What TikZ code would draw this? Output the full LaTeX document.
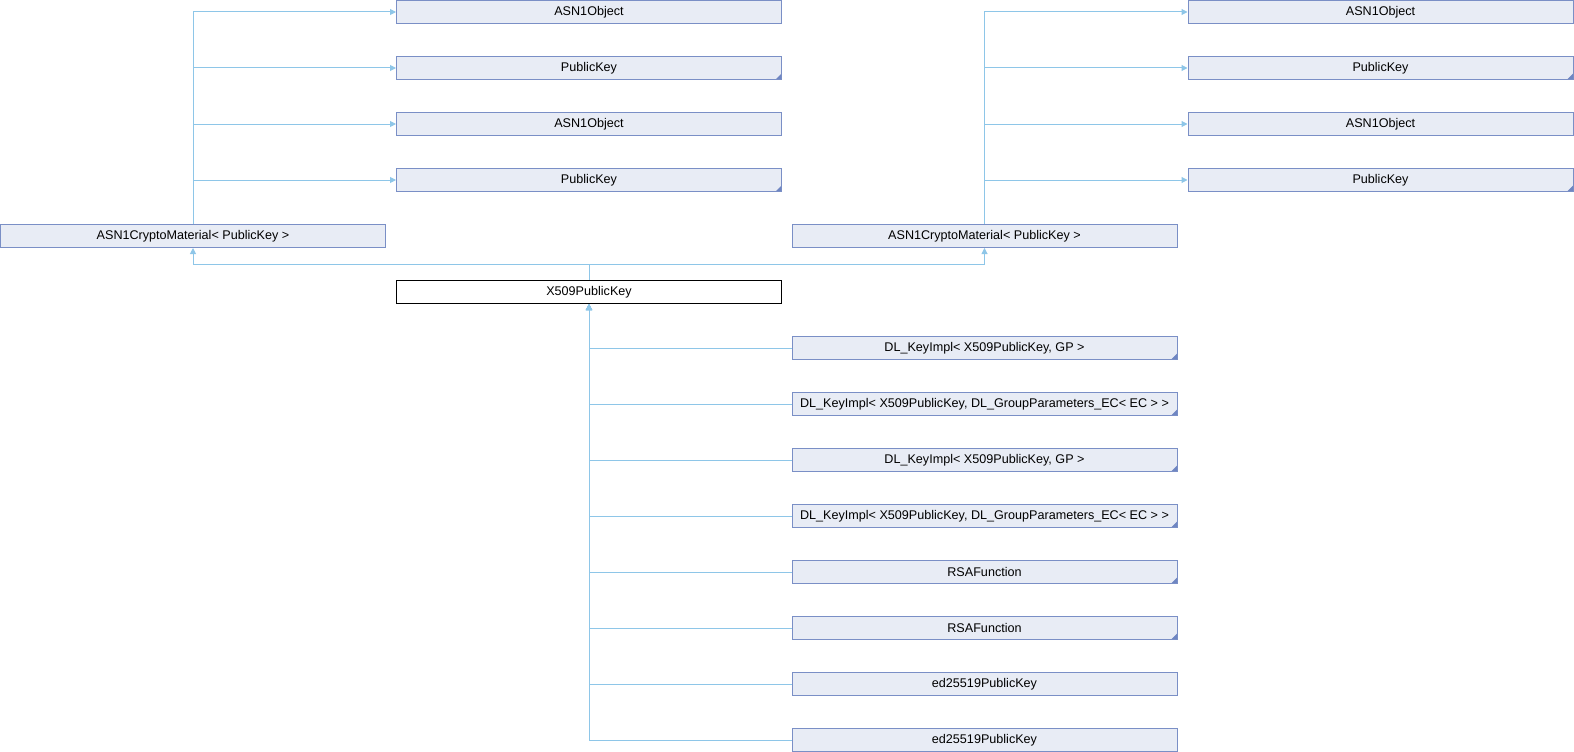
\documentclass[tikz,border=0pt]{standalone}
\usepackage{fontspec}
\setmainfont{Liberation Sans}
\usetikzlibrary{arrows.meta}

\definecolor{boxfill}{HTML}{E8ECF5}
\definecolor{boxline}{HTML}{7A8FC6}
\definecolor{cornerfill}{HTML}{6F86C2}
\definecolor{edgecol}{HTML}{8EC6E8}

\tikzset{
  cls/.style={draw=boxline, fill=boxfill, line width=1pt, rectangle,
    minimum width=385pt, minimum height=23pt, inner sep=0pt,
    font=\fontsize{12.6}{14}\selectfont},
  clsmore/.style={cls, path picture={
      \fill[cornerfill] (path picture bounding box.south east) -- ++(-6pt,0pt)
        -- ++(6pt,6pt) -- cycle;}},
  focus/.style={cls, draw=black, fill=white},
  link/.style={draw=edgecol, line width=1pt},
  inherit/.style={link, -{Triangle[length=6pt,width=6pt]}},
}

\begin{document}
\begin{tikzpicture}[x=1pt, y=-1pt]
\useasboundingbox (0,0) rectangle (1574,752);

% base classes of the left ASN1CryptoMaterial
\node[cls]     (la1) at (589,12)  {ASN1Object};
\node[clsmore] (lp1) at (589,68)  {PublicKey};
\node[cls]     (la2) at (589,124) {ASN1Object};
\node[clsmore] (lp2) at (589,180) {PublicKey};

% base classes of the right ASN1CryptoMaterial
\node[cls]     (ra1) at (1380.5,12)  {ASN1Object};
\node[clsmore] (rp1) at (1380.5,68)  {PublicKey};
\node[cls]     (ra2) at (1380.5,124) {ASN1Object};
\node[clsmore] (rp2) at (1380.5,180) {PublicKey};

% the two ASN1CryptoMaterial instances
\node[cls] (cmL) at (193,236)   {ASN1CryptoMaterial< PublicKey >};
\node[cls] (cmR) at (984.5,236) {ASN1CryptoMaterial< PublicKey >};

% the documented class
\node[focus] (x509) at (589,292) {X509PublicKey};

% derived classes
\node[clsmore] (d1) at (984.5,348) {DL\_KeyImpl< X509PublicKey, GP >};
\node[clsmore] (d2) at (984.5,404) {DL\_KeyImpl< X509PublicKey, DL\_GroupParameters\_EC< EC > >};
\node[clsmore] (d3) at (984.5,460) {DL\_KeyImpl< X509PublicKey, GP >};
\node[clsmore] (d4) at (984.5,516) {DL\_KeyImpl< X509PublicKey, DL\_GroupParameters\_EC< EC > >};
\node[clsmore] (d5) at (984.5,572) {RSAFunction};
\node[clsmore] (d6) at (984.5,628) {RSAFunction};
\node[cls]     (d7) at (984.5,684) {ed25519PublicKey};
\node[cls]     (d8) at (984.5,740) {ed25519PublicKey};

% inheritance of the ASN1CryptoMaterial instances
\foreach \t in {la1,lp1,la2,lp2}
  \draw[inherit] (cmL.north) |- (\t.west);
\foreach \t in {ra1,rp1,ra2,rp2}
  \draw[inherit] (cmR.north) |- (\t.west);

% X509PublicKey derives from both instances
\coordinate (split) at (589,264);
\draw[link] (x509.north) -- (split);
\draw[inherit] (split) -| (cmL.south);
\draw[inherit] (split) -| (cmR.south);

% classes derived from X509PublicKey
\foreach \s in {d1,d2,d3,d4,d5,d6,d7,d8}
  \draw[inherit] (\s.west) -| (x509.south);
\end{tikzpicture}
\end{document}
